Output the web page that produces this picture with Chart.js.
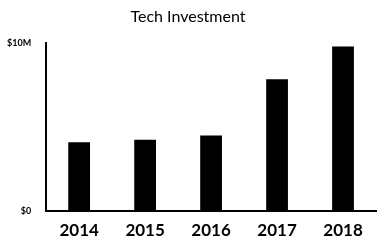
<!DOCTYPE html>
<html>
<head>
<meta charset="utf-8">
<script src="https://cdn.jsdelivr.net/npm/chart.js@4"></script>
<style>
  html, body { margin: 0; padding: 0; background: #fff; }
  #wrap { width: 378px; height: 241px; }
</style>
</head>
<body>
<div id="wrap"><canvas id="myChart"></canvas></div>
<script>
// Tech investment per year, in dollars
const years = ["2014", "2015", "2016", "2017", "2018"];
const investment = [4100000, 4250000, 4500000, 7850000, 9800000];
const yTicks = { 0: "$0", 10000000: "$10M" };

const ctx = document.getElementById("myChart");

new Chart(ctx, {
  type: "bar",
  data: {
    labels: years,
    datasets: [
      {
        label: "Tech Investment",
        data: investment,
        backgroundColor: "#000",
        borderWidth: 0,
        categoryPercentage: 1,
        barPercentage: 0.33,
      },
    ],
  },
  options: {
    responsive: true,
    maintainAspectRatio: false,
    animation: false,
    layout: { padding: { left: 0, right: 2, top: 0, bottom: -1 } },
    plugins: {
      legend: { display: false },
      tooltip: { enabled: false },
      title: {
        display: true,
        text: "Tech Investment",
        color: "#000",
        font: { family: "Lato", size: 16, weight: "normal" },
        padding: { top: 7, bottom: 17 },
      },
    },
    scales: {
      x: {
        grid: { display: false },
        border: { display: true, color: "#000", width: 2 },
        ticks: {
          color: "#000",
          font: { family: "Lato", size: 17, weight: "bold", lineHeight: 1 },
          padding: 3,
        },
      },
      y: {
        min: 0,
        max: 10000000,
        grid: { display: false },
        border: { display: true, color: "#000", width: 2 },
        ticks: {
          stepSize: 10000000,
          color: "#000",
          font: { family: "Lato", size: 9, weight: "bold" },
          padding: 7,
          callback: function (value) {
            return yTicks[value];
          },
        },
      },
    },
  },
});
</script>
</body>
</html>
